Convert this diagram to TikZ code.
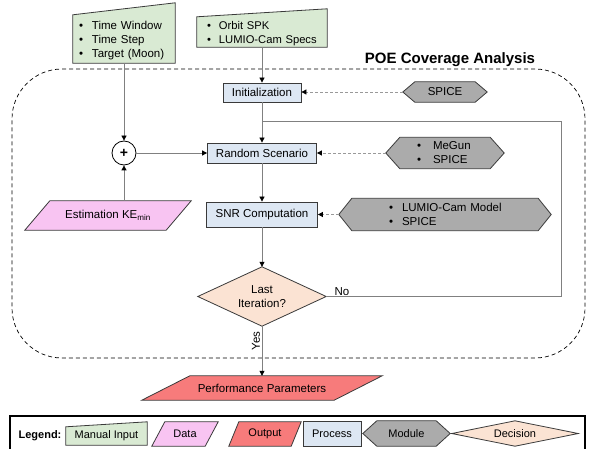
\documentclass[tikz,border=0pt]{standalone}
\usepackage{fontspec}
\setmainfont{Liberation Sans}
\usetikzlibrary{arrows.meta,backgrounds}
\definecolor{inputc}{HTML}{D9EAD3}
\definecolor{datac}{HTML}{F8C4F2}
\definecolor{outc}{HTML}{F77B7B}
\definecolor{procc}{HTML}{DDE7F3}
\definecolor{modc}{HTML}{ABABAB}
\definecolor{decc}{HTML}{FBE3D3}
\definecolor{linec}{HTML}{808080}
\definecolor{edgec}{HTML}{3A3A3A}
\newcommand\hexshape[3]{\draw[#3] (#1.west) -- ([xshift=#2]#1.north west) -- ([xshift=-#2]#1.north east) -- (#1.east) -- ([xshift=-#2]#1.south east) -- ([xshift=#2]#1.south west) -- cycle;}
\newcommand\parashape[3]{\draw[#3] (#1.south west) -- ([xshift=#2]#1.north west) -- (#1.north east) -- ([xshift=-#2]#1.south east) -- cycle;}
\newcommand\manshape[3]{\draw[#3] (#1.south west) -- (#1.north west) -- ([yshift=#2]#1.north east) -- (#1.south east) -- cycle;}
\newcommand\diashape[2]{\draw[#2] (#1.west) -- (#1.north) -- (#1.east) -- (#1.south) -- cycle;}
\newcommand\bul[2]{\mbox{\makebox[#1][l]{\textbullet}#2}}
\tikzset{
  sbox/.style 2 args={inner sep=0pt, minimum width=#1, minimum height=#2, align=center},
  outl/.style={draw=edgec, line width=0.8pt},
  proc/.style={outl, fill=procc},
  conn/.style={draw=linec, line width=0.8pt, -{Triangle[length=5pt,width=5pt,color=black]}},
  dconn/.style={conn, dash pattern=on 3pt off 2pt, draw=linec!80},
  plainline/.style={draw=linec, line width=0.8pt},
}
\begin{document}
\begin{tikzpicture}[x=1pt,y=-1pt,font=\fontsize{11.5}{14}\selectfont]
\useasboundingbox (0,0) rectangle (602,449);
% dashed region
\node[draw=black, line width=0.7pt, dash pattern=on 4pt off 3pt, rounded corners=50pt,
      minimum width=573pt, minimum height=289pt, inner sep=0pt] (region) at (298.5,213.5) {};
\node[font=\bfseries\fontsize{15}{18}\selectfont] (title) at (450,60) {POE Coverage Analysis};

% inputs
\node[sbox={102pt}{48pt}, text width=90pt, align=left] (in1) at (124,39)
  {\rule{0pt}{12pt}\bul{13pt}{Time Window}\\\bul{13pt}{Time Step}\\\bul{13pt}{Target (Moon)}};
\node[sbox={130pt}{30pt}, text width=110pt, align=left, font=\fontsize{11.2}{14}\selectfont] (in2) at (262,32)
  {\rule{0pt}{11pt}\bul{12pt}{Orbit SPK}\\\bul{12pt}{LUMIO-Cam Specs}};

% processes
\node[proc, sbox={78pt}{19pt}] (init) at (262,92.5) {Initialization};
\node[proc, sbox={109pt}{20pt}] (rand) at (262,153) {Random Scenario};
\node[proc, sbox={111pt}{25pt}] (snr) at (262,214.5) {SNR Computation};

% modules
\node[sbox={84pt}{20pt}] (spice) at (445,92) {SPICE};
\node[sbox={118pt}{31pt}, text width=56pt, align=left] (megun) at (445,153)
  {\bul{16pt}{MeGun}\\\bul{16pt}{SPICE}};
\node[sbox={212pt}{32pt}, text width=112pt, align=left, font=\fontsize{11.5}{13.5}\selectfont] (lumio) at (445,214.5)
  {\bul{13pt}{LUMIO-Cam Model}\\\bul{13pt}{SPICE}};

% sum
\node[circle, outl, draw=black, fill=white, minimum size=24pt, inner sep=0pt, font=\bfseries\fontsize{14}{14}\selectfont] (plus) at (124,153) {+};

% data
\node[sbox={166pt}{29pt}] (est) at (108,215.5) {Estimation KE\textsubscript{min}};

% decision
\node[sbox={128pt}{59pt}] (dec) at (262,296.5) {Last\\Iteration?};

% output
\node[sbox={240pt}{24pt}] (perf) at (262,388) {Performance Parameters};

% legend
\node[draw=black, line width=2pt, minimum width=575pt, minimum height=40pt, inner sep=0pt] (leg) at (297.5,436) {};
\begin{scope}[font=\fontsize{11}{13}\selectfont]
\node[font=\bfseries\fontsize{11}{13}\selectfont] (legt) at (40,436) {Legend:};
\node[sbox={81pt}{18pt}] (lin) at (106.5,436) {Manual Input};
\node[sbox={66pt}{24pt}] (ldata) at (185,434) {Data};
\node[sbox={72pt}{24pt}] (lout) at (265,434) {Output};
\node[proc, sbox={58pt}{25pt}] (lproc) at (332,433.5) {Process};
\node[sbox={87pt}{25pt}] (lmod) at (406.5,433.5) {Module};
\node[sbox={126pt}{25pt}] (ldec) at (515,433.5) {Decision};
\end{scope}

\begin{scope}[on background layer]
\manshape{in1}{12pt}{outl, fill=inputc}
\manshape{in2}{8pt}{outl, fill=inputc}
\hexshape{spice}{12pt}{outl, fill=modc}
\hexshape{megun}{14pt}{outl, fill=modc}
\hexshape{lumio}{13pt}{outl, fill=modc}
\parashape{est}{25pt}{outl, fill=datac}
\diashape{dec}{outl, fill=decc}
\parashape{perf}{48pt}{outl, fill=outc}
\manshape{lin}{5pt}{outl, fill=inputc}
\parashape{ldata}{13pt}{outl, fill=datac}
\parashape{lout}{10pt}{outl, fill=outc}
\hexshape{lmod}{14pt}{outl, fill=modc}
\diashape{ldec}{outl, fill=decc}
\end{scope}

% connectors
\draw[conn] (in2) -- (init);
\draw[dconn] (spice.west) -- (spice.west -| init.east);
\draw[conn] (init) -- (rand);
\draw[conn] (rand) -- (snr);
\draw[conn] (snr) -- (dec);
\draw[dconn] (megun.west) -- (megun.west -| rand.east);
\draw[dconn] (lumio.west) -- (lumio.west -| snr.east);
\draw[conn] (in1) -- (plus);
\draw[conn] (plus |- est.north) -- (plus);
\draw[conn] (plus) -- (rand);
\coordinate (lp) at (561,121);
\draw[plainline] (dec.east) -- node[pos=0, anchor=base west, xshift=8pt, yshift=1.5pt, inner sep=0pt] (nolbl) {No} (dec.east -| lp) -- (lp) -- (init.south |- lp);
\draw[conn] (dec) -- node[rotate=90, anchor=south, pos=0.3, inner sep=1.5pt] (yeslbl) {Yes} (perf);
\end{tikzpicture}
\end{document}
